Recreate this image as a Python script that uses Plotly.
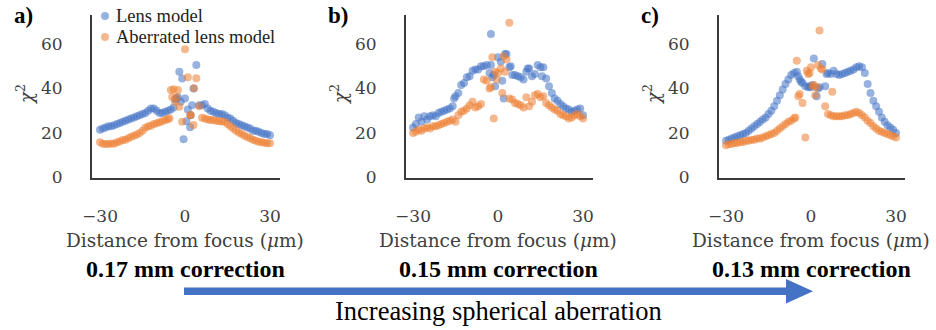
import plotly.graph_objects as go

# ---------------- data ----------------
grid = list(range(-30, 31))

# Panel a (0.17 mm correction)
a_lens_y = [21.5, 22, 22.5, 23, 23, 23.5, 24, 24.5, 25, 25.5, 26, 26.5, 27, 27.5, 28, 28.5,
            29, 30, 31, 31, 30, 29, 29, 29.5, 30, 30.5, 31.5, 35.5, 47.5, 44.5, 35.5, 30.5,
            28, 40, 50.5, 32.5, 32.5, 33, 31, 30, 29.5, 29, 28.5, 28.5, 28, 27, 26.5, 25.5,
            24.5, 24, 23.5, 23, 22.5, 22, 21, 21, 20.5, 20, 19.5, 19.5, 19]
a_lens_extra_x = [-3.5, -2.5, -1.5, -0.5, 0.5, 1.8, 2.5]
a_lens_extra_y = [35, 36, 34, 17.2, 25.3, 22.6, 32.5]
a_abr_y = [15.8, 15.2, 15, 15, 15.3, 15.2, 15.8, 16.2, 16.8, 17, 17.6, 18.3, 18.8, 19.3, 20,
           21, 22.3, 23, 23.3, 24, 24.4, 24.8, 25.3, 25.8, 26.2, 39.3, 39.6, 36, 31.8, 25,
           57.6, 45, 28, 23.6, 44.6, 32, 26.8, 26.5, 26, 25.8, 25.8, 25.5, 25.3, 25.2, 25,
           24, 23, 22, 21, 20.2, 19.5, 18.8, 18.2, 17.6, 17, 16.5, 16.1, 15.8, 15.6, 15.4, 15.4]
a_abr_extra_x = [-5.5, -4.5, -3.5, -2.5, 3.2, 1.8]
a_abr_extra_y = [26.6, 36.2, 34, 39.3, 40.1, 28.1]

# Panel b (0.15 mm correction)
b_lens_y = [22.5, 24, 27, 25, 27.5, 26, 27.5, 28, 27.5, 29, 29.5, 30, 30.5, 31, 32, 36.5,
            38, 41.5, 42.5, 45, 45.5, 48, 48.5, 48.5, 50, 50, 50.5, 47, 45, 41, 54, 52,
            35.5, 55.5, 49.5, 46, 46, 45.5, 45, 44, 47.5, 49, 45.5, 46.5, 50.5, 49.5, 49.5,
            44.5, 41, 38, 35.5, 34.5, 33, 32, 31, 30.5, 29.5, 30, 30.5, 31, 28]
b_lens_extra_x = [-15.5, -2.5, -2.5, -1.5, 1.5, 2.5, 4.5, 10.5, 15.5]
b_lens_extra_y = [35.5, 64.5, 50.5, 46, 43.5, 55.5, 50, 49, 45.5]
b_abr_y = [20, 20.5, 21.5, 21, 22, 22.5, 22, 23, 23, 23.5, 24, 24.5, 25, 25.5, 26, 25,
           28, 29.5, 30, 31, 32.5, 34, 31.5, 32, 33, 44, 43.5, 40, 54, 47.5, 47, 49, 54.5,
           53, 35.5, 35, 33.5, 33, 32.5, 31.5, 36, 32, 34, 37, 37.5, 36, 36.5, 33.5, 32.5,
           31.5, 30.5, 30, 28.5, 28, 27.5, 26.5, 27, 28, 28.5, 27.5, 26.5]
b_abr_extra_x = [-2.5, -1.5, -0.5, 1.5, 2.5, 4]
b_abr_extra_y = [40.5, 26.5, 44, 38, 47.5, 69.5]

# Panel c (0.13 mm correction)
c_lens_y = [16.5, 17, 17.5, 18, 18.5, 19, 19.5, 20, 21, 22, 23, 24, 25, 26, 27, 28.5, 30,
            32, 34.5, 37, 39.5, 42, 44, 46, 47, 47.5, 44, 42.5, 41, 40.5, 40.5, 53.5, 36.5,
            40.5, 51, 41, 47, 46.5, 48, 46.5, 46, 46.5, 47, 47.5, 48, 48.5, 49.5, 50, 49.5,
            47, 42, 38, 34.5, 32, 29.5, 27, 25, 23.5, 22.5, 21.5, 20]
c_lens_extra_x = [-4.5, -3.5, -0.5, 0.5, 2.5, 5.5]
c_lens_extra_y = [45.5, 43, 41, 41.5, 40, 46.5]
c_abr_y = [14.5, 15, 15, 15.5, 15.5, 16, 16, 16.5, 16.5, 17, 17, 17.5, 17.5, 18, 18.5, 19,
           19.5, 20, 21, 22, 23, 24, 25, 25.5, 26.5, 52.5, 37.5, 33.5, 18, 46.5, 49.5, 41.5,
           40.5, 66, 48.5, 32, 28.5, 28, 27.5, 27.5, 27.5, 27.5, 28, 28, 28.5, 29, 29.5, 29,
           28, 27, 25.5, 24.5, 23, 22, 21, 20.5, 20, 19.5, 19, 18.5, 18]
c_abr_extra_x = [-5.5, -4.5, -1.5, -0.5, 0.5, 1.5, 2.5, 3.5, 7.5]
c_abr_extra_y = [27, 36.5, 48, 47, 41, 37, 50.5, 49, 38.5]

y_ticks = [0, 20, 40, 60]
x_ticks = [-30, 0, 30]
x_tick_text = ["\u221230", "0", "30"]
panel_letters = ["a)", "b)", "c)"]
corrections = ["0.17 mm correction", "0.15 mm correction", "0.13 mm correction"]
series_names = ["Lens model", "Aberrated lens model"]

BLUE = "#4472C4"
ORANGE = "#ED7D31"
W, H = 936, 330

panels = [
    (a_lens_y, a_lens_extra_x, a_lens_extra_y, a_abr_y, a_abr_extra_x, a_abr_extra_y),
    (b_lens_y, b_lens_extra_x, b_lens_extra_y, b_abr_y, b_abr_extra_x, b_abr_extra_y),
    (c_lens_y, c_lens_extra_x, c_lens_extra_y, c_abr_y, c_abr_extra_x, c_abr_extra_y),
]

# pixel layout of each panel: (axis left, axis right, x of zero)
geom = [(92, 280, 185), (406, 593, 498), (719, 905, 811)]
PX_PER_UNIT = 2.833
Y_TOP, Y_BOT = 15, 177.5

fig = go.Figure()
layout_axes = {}
annotations = []
shapes = []


def px(x):
    return x / W


def py(y):
    return 1 - y / H


for i, (data, (l, r, z), letter, corr) in enumerate(zip(panels, geom, panel_letters, corrections)):
    ly, lx2, ly2, ay, ax2, ay2 = data
    sfx = "" if i == 0 else str(i + 1)
    xa, ya = "x" + sfx, "y" + sfx
    fig.add_trace(go.Scatter(x=grid + lx2, y=ly + ly2, mode="markers", name=series_names[0],
                             marker=dict(color=BLUE, size=8, opacity=0.55, line=dict(width=0)),
                             xaxis=xa, yaxis=ya, showlegend=False))
    fig.add_trace(go.Scatter(x=grid + ax2, y=ay + ay2, mode="markers", name=series_names[1],
                             marker=dict(color=ORANGE, size=8, opacity=0.55, line=dict(width=0)),
                             xaxis=xa, yaxis=ya, showlegend=False))
    xr = [-(z - l) / PX_PER_UNIT, (r - z) / PX_PER_UNIT]
    layout_axes["xaxis" + sfx] = dict(
        domain=[px(l), px(r)], range=xr, anchor=ya, showline=True, linecolor="#3a3a3a",
        linewidth=2, showgrid=False, zeroline=False, ticks="", tickvals=x_ticks,
        ticktext=x_tick_text, ticklabelstandoff=22, automargin=False,
        tickfont=dict(family="DejaVu Serif", size=17, color="#404040"))
    layout_axes["yaxis" + sfx] = dict(
        domain=[py(Y_BOT), py(Y_TOP)], range=[0, (Y_BOT - Y_TOP) / 2.226], anchor=xa,
        showline=True, linecolor="#3a3a3a", linewidth=2, showgrid=False, zeroline=False,
        ticks="", tickvals=y_ticks, ticklabelstandoff=24, automargin=False,
        tickfont=dict(family="DejaVu Serif", size=17, color="#404040"))
    # panel letter
    annotations.append(dict(text="<b>" + letter + "</b>", x=px(l - 80), y=py(16), xref="paper",
                            yref="paper", xanchor="left", yanchor="middle", showarrow=False,
                            font=dict(family="Liberation Serif", size=23, color="black")))
    # y title
    annotations.append(dict(text="<i>\u03c7</i><sup>2</sup>", x=px(l - 67), y=py(95),
                            xref="paper", yref="paper", textangle=-90, showarrow=False,
                            xanchor="center", yanchor="middle",
                            font=dict(family="DejaVu Serif", size=18, color="#404040")))
    # x title
    annotations.append(dict(text="Distance from focus (<i>\u03bc</i>m)", x=px(z), y=py(240),
                            xref="paper", yref="paper", showarrow=False, xanchor="center",
                            yanchor="middle",
                            font=dict(family="DejaVu Serif", size=18.5, color="#404040")))
    # correction label
    annotations.append(dict(text="<b>" + corr + "</b>", x=px(z), y=py(269), xref="paper",
                            yref="paper", showarrow=False, xanchor="center", yanchor="middle",
                            font=dict(family="Liberation Serif", size=24, color="black")))

# legend (top of panel a)
for name, col, yy in [(series_names[0], BLUE, 16), (series_names[1], ORANGE, 37)]:
    shapes.append(dict(type="circle", xref="paper", yref="paper", x0=px(101), x1=px(109),
                       y0=py(yy + 4), y1=py(yy - 4), fillcolor=col, opacity=0.55,
                       line=dict(width=0)))
    annotations.append(dict(text=name, x=px(114), y=py(yy), xref="paper", yref="paper",
                            xanchor="left", yanchor="middle", showarrow=False,
                            font=dict(family="Liberation Serif", size=18.5, color="#222222")))

# big arrow
shapes.append(dict(type="rect", xref="paper", yref="paper", x0=px(184), x1=px(787),
                   y0=py(295), y1=py(287.5), fillcolor=BLUE, line=dict(width=0)))
shapes.append(dict(type="path", xref="paper", yref="paper",
                   path=f"M {px(786)} {py(279)} L {px(813)} {py(291.2)} L {px(786)} {py(303.5)} Z",
                   fillcolor=BLUE, line=dict(width=0)))
annotations.append(dict(text="Increasing spherical aberration", x=px(498), y=py(311),
                        xref="paper", yref="paper", showarrow=False, xanchor="center",
                        yanchor="middle",
                        font=dict(family="Liberation Serif", size=26.5, color="black")))

fig.update_layout(template="none", width=W, height=H, margin=dict(l=0, r=0, t=0, b=0, pad=0),
                  paper_bgcolor="white", plot_bgcolor="white", showlegend=False,
                  annotations=annotations, shapes=shapes, **layout_axes)
fig.write_html("out.html", config={"displayModeBar": False},
               post_script="document.body.style.margin='0';document.body.style.overflow='hidden';")
